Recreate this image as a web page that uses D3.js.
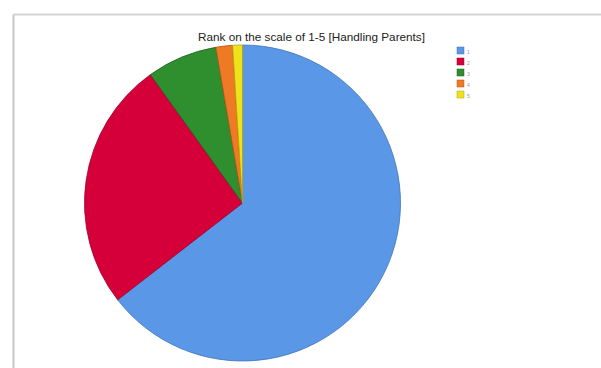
<!DOCTYPE html>
<html><head><meta charset="utf-8">
<script src="https://cdn.jsdelivr.net/npm/d3@7"></script>
<style>html,body{margin:0;padding:0;background:#fff;}svg{display:block;}</style>
</head><body>
<svg id="c" width="601" height="368"></svg>
<script>
const categories = ["1","2","3","4","5"];
const values = [64.5, 25.6, 7.2, 1.7, 1.0];
const colors = ["#5a97e6","#d5003a","#2f8f2f","#ef7a25","#efe21c"];
const strokes = ["#3f73b8","#9c0028","#1f621f","#b35513","#b0a40f"];
const title = "Rank on the scale of 1-5 [Handling Parents]";

const svg = d3.select("#c");
// frame
svg.append("line").attr("x1",13.5).attr("y1",14.5).attr("x2",601).attr("y2",14.5).attr("stroke","#d4d4d4").attr("stroke-width",2);
svg.append("line").attr("x1",13.5).attr("y1",14.5).attr("x2",13.5).attr("y2",368).attr("stroke","#c8c8c8").attr("stroke-width",2);

const cx = 242.5, cy = 203, r = 158;
const pie = d3.pie().sort(null).value(d => d)(values);
const arc = d3.arc().innerRadius(0).outerRadius(r);
const g = svg.append("g").attr("transform",`translate(${cx},${cy})`);
g.selectAll("path").data(pie).join("path")
  .attr("d", arc)
  .attr("fill", (d,i) => colors[i])
  .attr("stroke", (d,i) => strokes[i])
  .attr("stroke-width", 0.8);

svg.append("text").attr("x",311.5).attr("y",41).attr("text-anchor","middle")
  .attr("font-family","Liberation Sans, Arial, sans-serif").attr("font-size",11.5)
  .attr("textLength",227).attr("lengthAdjust","spacingAndGlyphs")
  .attr("fill","#222").text(title);

const lg = svg.append("g");
const ly = d3.scaleBand().domain(categories).range([46, 101]);
categories.forEach((c,i) => {
  lg.append("rect").attr("x",457).attr("y",ly(c)+1).attr("width",7).attr("height",7)
    .attr("fill",colors[i]).attr("stroke",strokes[i]).attr("stroke-width",0.5);
  lg.append("text").attr("x",467).attr("y",ly(c)+7.5)
    .attr("font-family","Liberation Sans, Arial, sans-serif").attr("font-size",5)
    .attr("fill","#999").text(c);
});
</script>
</body></html>
